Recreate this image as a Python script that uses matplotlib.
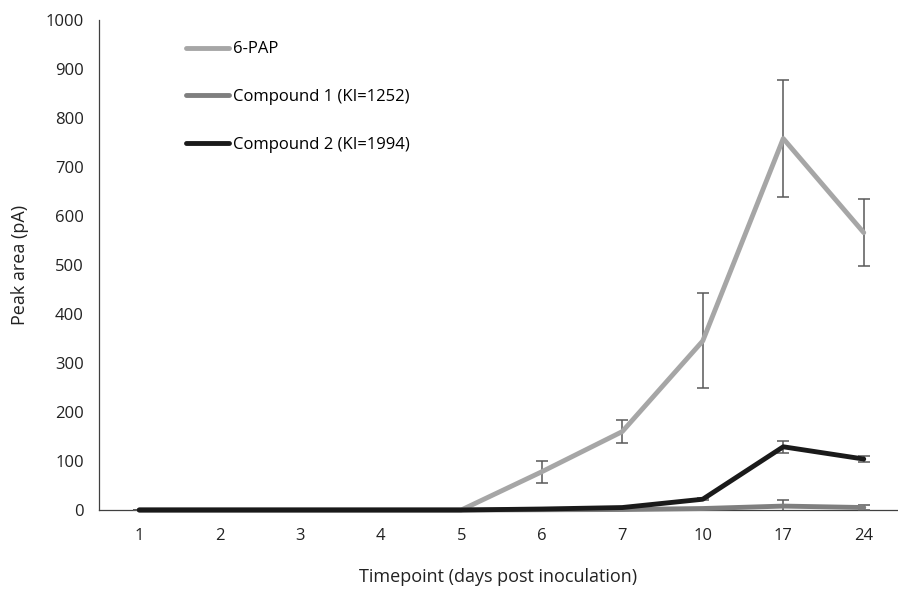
import matplotlib
matplotlib.use("Agg")
import matplotlib.pyplot as plt
import numpy as np

timepoints = ["1", "2", "3", "4", "5", "6", "7", "10", "17", "24"]
pap = [0, 0, 0, 0, 0, 78, 160, 345, 758, 566]
pap_err = [0, 0, 0, 0, 0, 22, 24, 97, 120, 69]
comp1 = [0, 0, 0, 0, 0, 0.5, 1, 3, 8, 5]
comp1_err = [0, 0, 0, 0, 0, 0, 0, 1, 12, 5]
comp2 = [0, 0, 0, 0, 0, 2, 5, 22, 129, 104]
comp2_err = [0, 0, 0, 0, 0, 0.5, 1, 2, 12, 6]

plt.rcParams['font.family'] = ['Open Sans', 'DejaVu Sans']

fig = plt.figure(figsize=(8.98, 5.89), dpi=100)
ax = fig.add_axes([99/898, 79/589, 1 - 99/898, (510-20)/589])

x = np.arange(len(timepoints))
ecol = '#595959'
series = [
    (pap, pap_err, '#a6a6a6', '6-PAP', 2),
    (comp1, comp1_err, '#7f7f7f', 'Compound 1 (KI=1252)', 3),
    (comp2, comp2_err, '#1a1a1a', 'Compound 2 (KI=1994)', 4),
]
for vals, errs, col, lab, z in series:
    ax.errorbar(x, vals, yerr=errs, fmt='none', ecolor=ecol, elinewidth=1.1,
                capsize=4, capthick=1.1, zorder=z)
    ax.plot(x, vals, color=col, lw=3.5, label=lab, zorder=z + 0.5,
            solid_capstyle='round', clip_on=False)

ax.set_xlim(-0.5, -0.5 + 799/80.5)
ax.set_ylim(0, 1000)
ax.set_yticks(np.arange(0, 1001, 100))
ax.set_xticks(x)
ax.set_xticklabels(timepoints)
ax.tick_params(axis='both', length=0, labelsize=12, colors='#222222')
ax.tick_params(axis='x', pad=13)
ax.tick_params(axis='y', pad=11)
for s in ['top', 'right']:
    ax.spines[s].set_visible(False)
for s in ['left', 'bottom']:
    ax.spines[s].set_color('#404040')
    ax.spines[s].set_linewidth(0.9)

ax.set_ylabel('Peak area (pA)', fontsize=13, labelpad=12, color='#222222')
ax.set_xlabel('Timepoint (days post inoculation)', fontsize=13, labelpad=17, color='#222222')

leg = ax.legend(loc='upper left', bbox_to_anchor=(0.09, 0.987), frameon=False,
                fontsize=12, handlelength=2.6, handletextpad=0.2, labelspacing=1.9)

fig.savefig('out.png', dpi=100)
